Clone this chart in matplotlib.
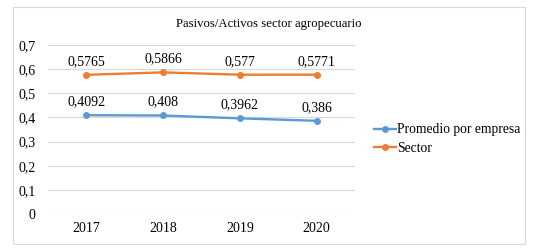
import matplotlib
matplotlib.use("Agg")
from matplotlib import pyplot as plt
from matplotlib.patches import Rectangle

years = ["2017", "2018", "2019", "2020"]
promedio = [0.4092, 0.408, 0.3962, 0.386]
sector = [0.5765, 0.5866, 0.577, 0.5771]
promedio_labels = ["0,4092", "0,408", "0,3962", "0,386"]
sector_labels = ["0,5765", "0,5866", "0,577", "0,5771"]
yticks = [0, 0.1, 0.2, 0.3, 0.4, 0.5, 0.6, 0.7]
ytick_labels = ["0", "0,1", "0,2", "0,3", "0,4", "0,5", "0,6", "0,7"]

plt.rcParams['font.family'] = ['Liberation Serif', 'DejaVu Serif']
fs = 10

W, H = 540, 252
fig = plt.figure(figsize=(W / 100, H / 100), dpi=100)
fig.patches.append(Rectangle((13 / W, 1 - 244 / H), (525 - 13) / W, (244 - 7) / H,
                             transform=fig.transFigure, fill=False,
                             edgecolor='#D9D9D9', linewidth=0.8))

ax = fig.add_axes([48 / W, 1 - 214 / H, (355 - 48) / W, (214 - 45) / H])
x = list(range(len(years)))

blue = '#5B9BD5'
orange = '#ED7D31'
ax.plot(x, promedio, color=blue, linewidth=1.7, marker='o', markersize=4,
        label='Promedio por empresa')
ax.plot(x, sector, color=orange, linewidth=1.7, marker='o', markersize=4,
        label='Sector')

for xi, v, s in zip(x, promedio, promedio_labels):
    ax.annotate(s, (xi, v), xytext=(0, 5), textcoords='offset points',
                ha='center', va='bottom', fontsize=fs)
for xi, v, s in zip(x, sector, sector_labels):
    ax.annotate(s, (xi, v), xytext=(0, 5), textcoords='offset points',
                ha='center', va='bottom', fontsize=fs)

ax.set_xlim(-0.5, 3.5)
ax.set_ylim(0, 0.7)
ax.set_yticks(yticks)
ax.set_yticklabels(ytick_labels, fontsize=fs)
ax.set_xticks(x)
ax.set_xticklabels(years, fontsize=fs)
ax.grid(axis='y', color='#D9D9D9', linewidth=0.8)
ax.set_axisbelow(True)
for sp in ax.spines.values():
    sp.set_visible(False)
ax.tick_params(length=0, pad=6)
ax.tick_params(axis='y', pad=9)

fig.text(269 / W, 1 - 24 / H, 'Pasivos/Activos sector agropecuario',
         ha='center', va='center', fontsize=9.2)

ax.legend(loc='center left', bbox_to_anchor=(362 / W, 1 - 139 / H),
          bbox_transform=fig.transFigure, frameon=False, fontsize=9.8,
          handlelength=1.6, handletextpad=0.05, labelspacing=0.4)

fig.savefig('out.png', dpi=100)
